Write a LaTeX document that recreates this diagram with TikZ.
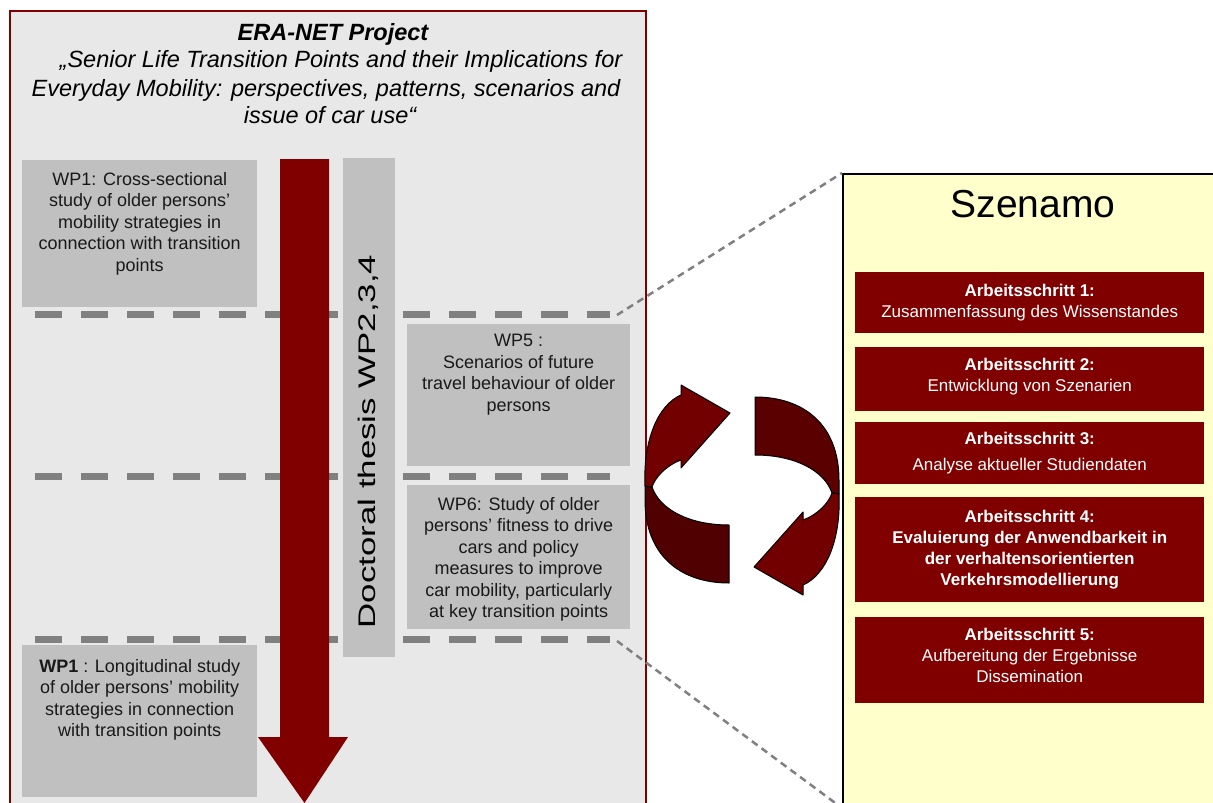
\documentclass[tikz,border=0pt]{standalone}
\usepackage{fontspec}
\setmainfont{Liberation Sans}
\usepackage{graphicx}
\definecolor{panelgray}{HTML}{E8E8E8}
\definecolor{boxgray}{HTML}{C0C0C0}
\definecolor{darkred}{HTML}{800000}
\definecolor{dashgray}{HTML}{808080}
\definecolor{szyellow}{HTML}{FFFFCC}
\definecolor{ringlight}{HTML}{730000}
\definecolor{ringdark}{HTML}{500000}
\definecolor{ringdarkb}{HTML}{5A0000}

\begin{document}
\begin{tikzpicture}[x=1pt,y=-1pt,
  panel/.style={anchor=north west, inner sep=0pt, fill=panelgray, draw=darkred, line width=1.5pt},
  graybox/.style={fill=boxgray, draw=none, anchor=north west, inner sep=0pt},
  wptext/.style={anchor=north, align=center, inner sep=0pt, text=black!90,
    font=\fontsize{18}{21.5}\selectfont},
  titleline/.style={anchor=base, inner sep=0pt, font=\fontsize{23.5}{28}\selectfont\itshape},
  stepbox/.style={fill=darkred, draw=none, anchor=north west, inner sep=0pt, minimum width=349pt},
  steptext/.style={align=center, inner sep=0pt, text=white, font=\fontsize{17}{21}\selectfont},
  sepline/.style={dashgray, line width=7pt, dash pattern=on 27pt off 19pt},
  zoomline/.style={dashgray, line width=2.5pt, dash pattern=on 7pt off 5pt},
  ringpart/.style={draw=black, line width=1pt, line join=round}
]
\useasboundingbox (0,0) rectangle (1213,803);
\fill[white] (0,0) rectangle (1213,803);

% project panel on the left
\node[panel, minimum width=636pt, minimum height=800pt] (era) at (9,10) {};

\node[titleline, font=\fontsize{23.5}{28}\selectfont\bfseries\itshape] (title) at (333,40) {ERA-NET Project};
\node[titleline] (tline1) at (341,67) {„Senior Life Transition Points and their Implications for};
\node[titleline] (tline2) at (326,96) {Everyday Mobility: perspectives, patterns, scenarios and};
\node[titleline] (tline3) at (330,123) {issue of car use“};

% dashed separators between the phases
\draw[sepline] (35,314) -- (610,314);
\draw[sepline] (35,476) -- (610,476);
\draw[sepline] (35,639) -- (610,639);

% work package boxes
\node[graybox, minimum width=235pt, minimum height=147pt] (wp1a) at (22,160) {};
\node[graybox, minimum width=223pt, minimum height=142pt] (wp5) at (407,324) {};
\node[graybox, minimum width=223pt, minimum height=144pt] (wp6) at (407,485) {};
\node[graybox, minimum width=235pt, minimum height=152pt] (wp1b) at (22,645) {};

\node[wptext] (wp1atext) at ([yshift=-12pt]wp1a.north)
  {WP1: Cross-sectional\\study of older persons’\\mobility strategies in\\connection with transition\\points};
\node[wptext] (wp5text) at ([yshift=-10pt]wp5.north)
  {WP5 :\\Scenarios of future\\travel behaviour of older\\persons};
\node[wptext] (wp6text) at ([yshift=-12pt]wp6.north)
  {WP6: Study of older\\persons’ fitness to drive\\cars and policy\\measures to improve\\car mobility, particularly\\at key transition points};
\node[wptext] (wp1btext) at ([yshift=-14pt]wp1b.north)
  {\textbf{WP1} : Longitudinal study\\of older persons’ mobility\\strategies in connection\\with transition points};

% time arrow
\fill[darkred] (280,159) -- (329,159) -- (329,737) -- (348,737) -- (304.5,803)
  -- (258,737) -- (280,737) -- cycle;

% doctoral thesis bar
\node[graybox, minimum width=52pt, minimum height=499pt] (thesis) at (343,158) {};
\node[rotate=90, anchor=base, inner sep=0pt, font=\fontsize{24}{28}\selectfont] (thesislabel)
  at (375,441.5) {\scalebox{1.45}[1]{Doctoral thesis WP2,3,4}};

% Szenamo panel
\node[anchor=north west, inner sep=0pt, fill=szyellow, draw=black, line width=2pt,
  minimum width=374pt, minimum height=633pt] (szenamo) at (842,173) {};
\node[anchor=base, inner sep=0pt, font=\fontsize{39}{43}\selectfont] (sztitle) at (1033,217) {Szenamo};

\node[stepbox, minimum height=61pt] (s1) at (855,272) {};
\node[stepbox, minimum height=64pt] (s2) at (855,347) {};
\node[stepbox, minimum height=62pt] (s3) at (855,422) {};
\node[stepbox, minimum height=105pt] (s4) at (855,497) {};
\node[stepbox, minimum height=86pt] (s5) at (855,617) {};

\node[steptext] (s1text) at (s1.center) {\textbf{Arbeitsschritt 1:}\\Zusammenfassung des Wissenstandes};
\node[steptext] (s2text) at ([yshift=3pt]s2.center) {\textbf{Arbeitsschritt 2:}\\Entwicklung von Szenarien};
\node[steptext] (s3text) at (s3.center) {\textbf{Arbeitsschritt 3:}\\[5pt]Analyse aktueller Studiendaten};
\node[steptext, font=\fontsize{17}{21}\selectfont\bfseries] (s4text) at (s4.center)
  {Arbeitsschritt 4:\\Evaluierung der Anwendbarkeit in\\der verhaltensorientierten\\Verkehrsmodellierung};
\node[steptext] (s5text) at ([yshift=5pt]s5.center) {\textbf{Arbeitsschritt 5:}\\Aufbereitung der Ergebnisse\\Dissemination};

% zoom lines from WP5/WP6 band to the Szenamo panel
\coordinate (sep1end) at (617,315);
\coordinate (sep3end) at (617,641);
\draw[zoomline] (sep1end) -- (szenamo.north west);
\draw[zoomline] (sep3end) -- (szenamo.south west);

% cycle of two curved arrows
\begin{scope}
  \path[ringpart, fill=ringdark] (729,583) .. controls (680,583) and (645,555) .. (645,500)
    -- (645,486) -- (652,487) .. controls (660,510) and (690,525) .. (729,525) -- cycle;
  \path[ringpart, fill=ringlight] (645,486) .. controls (643,440) and (658,405) .. (681,395)
    -- (681,385) -- (730,413) -- (681,468) -- (681,460)
    .. controls (665,466) and (655,478) .. (652,487) -- cycle;
\end{scope}
\begin{scope}[rotate around={180:(742,490)}]
  \path[ringpart, fill=ringdarkb] (729,583) .. controls (680,583) and (645,555) .. (645,500)
    -- (645,486) -- (652,487) .. controls (660,510) and (690,525) .. (729,525) -- cycle;
  \path[ringpart, fill=ringlight] (645,486) .. controls (643,440) and (658,405) .. (681,395)
    -- (681,385) -- (730,413) -- (681,468) -- (681,460)
    .. controls (665,466) and (655,478) .. (652,487) -- cycle;
\end{scope}
\end{tikzpicture}
\end{document}
